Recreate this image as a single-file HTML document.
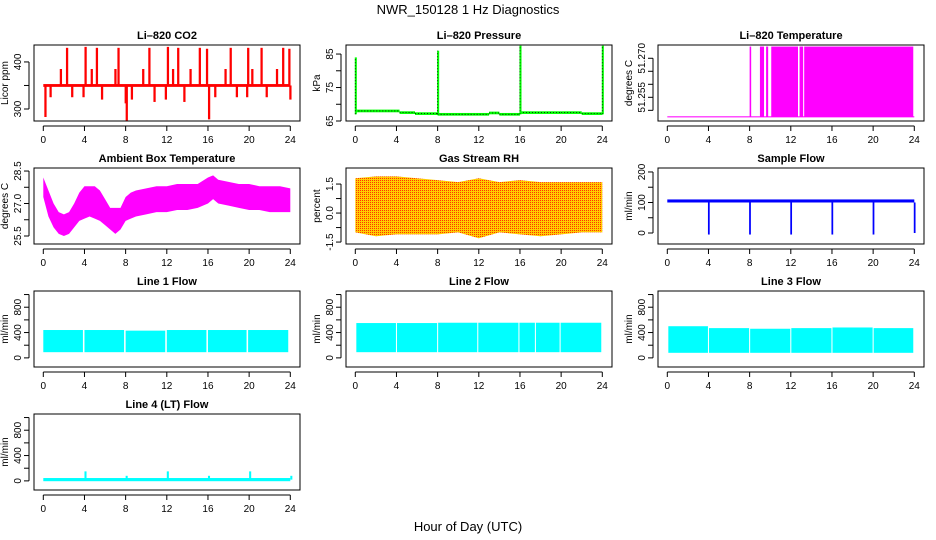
<!DOCTYPE html>
<html><head><meta charset="utf-8"><style>
html,body{margin:0;padding:0;background:#fff;}
svg{display:block;font-family:"Liberation Sans",sans-serif;}
</style></head><body>
<svg id="chart" width="936" height="540" viewBox="0 0 936 540" xmlns="http://www.w3.org/2000/svg">
<defs>
<pattern id="rhpat" width="2" height="2" patternUnits="userSpaceOnUse">
<rect width="2" height="2" fill="#ffcc00"/><rect width="1" height="1" fill="#ff3300"/>
</pattern>
</defs>
<text x="468" y="14" text-anchor="middle" font-size="13">NWR_150128  1 Hz Diagnostics</text>
<text x="468" y="531" text-anchor="middle" font-size="13">Hour of Day (UTC)</text>
</svg>
<script>
// ---- data ----
const xTicks = [0,4,8,12,16,20,24];
const co2SpikeT = [0.1,0.6,1.6,2.2,2.7,3.8,4.0,4.6,5.1,5.6,6.9,7.2,7.9,8.0,8.5,9.6,10.2,10.7,11.8,12.0,12.5,13.0,13.6,14.2,15.1,15.8,16.0,16.6,17.6,18.1,18.7,19.7,19.8,20.2,21.1,21.6,22.6,23.2,23.8,23.9];
const co2SpikeV = [283,325,385,430,325,325,432,385,430,320,385,430,312,275,320,385,430,315,320,432,385,430,315,385,430,428,278,325,385,430,325,325,430,385,430,325,385,430,428,320];
const pressSegStart = [0,4.3,5.8,8,13,14,16,20,22];
const pressSegEnd = [4.3,5.8,8,13,14,16,20,22,24];
const pressSegVal = [68,67.5,67.2,67,67.4,67,67.5,67.5,67.2];
const pressSpikeT = [0,8,16,24];
const pressSpikeV = [84,86,87.5,87.5];
const liTempBase = 51.2475;
const liTempBlockStart = [8.0,9.0,9.6,10.1,12.85,13.3];
const liTempBlockEnd = [8.15,9.4,9.8,12.7,13.2,23.9];
const liTempTop = 51.2745;
const ambT  = [0,0.5,1,1.5,2,2.5,3,3.5,4,4.5,5,5.5,6,6.5,7,7.5,8,8.5,9,10,11,12,13,14,15,16,16.5,17,18,19,20,21,22,23,24];
const ambHi = [28.2,27.6,27.0,26.6,26.5,26.6,27.0,27.5,27.8,27.8,27.8,27.6,27.2,26.8,26.8,26.8,27.3,27.5,27.6,27.7,27.8,27.8,27.9,27.9,27.9,28.2,28.3,28.1,28.0,27.9,27.9,27.8,27.8,27.8,27.7];
const ambLo = [27.3,26.4,25.9,25.6,25.5,25.6,25.9,26.2,26.3,26.4,26.3,26.2,26.0,25.8,25.6,25.8,26.2,26.3,26.4,26.5,26.6,26.6,26.7,26.7,26.8,27.0,27.2,27.0,26.9,26.8,26.7,26.7,26.6,26.6,26.6];
const rhT  = [0,2,4,6,8,10,12,14,16,18,20,22,24];
const rhHi = [1.8,1.9,1.9,1.8,1.7,1.6,1.8,1.6,1.7,1.6,1.6,1.6,1.6];
const rhLo = [-1.0,-1.2,-1.1,-1.1,-1.1,-1.0,-1.3,-1.0,-1.1,-1.2,-1.1,-1.0,-1.0];
const sfBaseLo = 100, sfBaseHi = 110;
const sfDipT = [4,8,12,16,20,24];
const sfDipV = [-5,-5,-5,-5,-5,0];
const l1Start = [0,4.0,8.0,12.0,16.0,19.9];
const l1End   = [3.85,7.85,11.85,15.85,19.75,23.8];
const l1Hi    = [440,440,430,440,440,440];
const l1Lo = 90;
const l2Start = [0.1,4.05,8.05,11.95,15.95,17.55,19.95];
const l2End   = [3.95,7.95,11.85,15.85,17.45,19.85,23.9];
const l2Hi    = [550,550,555,555,555,555,555];
const l2Lo = 90;
const l3Start = [0.1,4.05,8.05,12.05,16.05,20.05];
const l3End   = [3.95,7.95,11.95,15.95,19.95,23.9];
const l3Hi    = [500,470,460,470,480,470];
const l3Lo = 80;
const l4Base = 20;
const l4SpikeT = [4,8,12,16,20,24];
const l4SpikeV = [150,80,150,80,150,80];

// ---- drawing ----
const NS = 'http://www.w3.org/2000/svg';
const svg = document.getElementById('chart');
function mk(tag, attrs, parent){
  const e = document.createElementNS(NS, tag);
  for (const k in attrs) e.setAttribute(k, attrs[k]);
  (parent || svg).appendChild(e);
  return e;
}
const colLeft = [34,346,658];
const rowTop = [45,168,291,414];
const W = 266, H = 76;

function panel(col,row,ymin,ymax,yticks,ylabels,title,ylab,name){
  const L = colLeft[col], T = rowTop[row];
  const g = mk('g',{});
  
  
  const x = h => L + 9.3 + h * (247/24);
  const y = v => T + H - (v - ymin) / (ymax - ymin) * H;
  const plot = mk('g',{}, g);
  
  
  const box = mk('rect',{x:L,y:T,width:W,height:H,fill:'none',stroke:'#000','stroke-width':1}, g);
  
  
  const t = mk('text',{x:L+W/2,y:T-6,'text-anchor':'middle','font-size':11,'font-weight':'bold'}, g);
  t.textContent = title;
  
  
  const xa = mk('g',{}, g);
  
  
  mk('line',{x1:x(0),x2:x(24),y1:T+H+5,y2:T+H+5,stroke:'#000'}, xa);
  xTicks.forEach(v=>{
    mk('line',{x1:x(v),x2:x(v),y1:T+H+5,y2:T+H+10,stroke:'#000'}, xa);
    const tl = mk('text',{x:x(v),y:T+H+22,'text-anchor':'middle','font-size':10}, xa);
    tl.textContent = v;
    
    
  });
  const ya = mk('g',{}, g);
  
  
  mk('line',{x1:L-5,x2:L-5,y1:y(yticks[0]),y2:y(yticks[yticks.length-1]),stroke:'#000'}, ya);
  yticks.forEach(v=>{ mk('line',{x1:L-10,x2:L-5,y1:y(v),y2:y(v),stroke:'#000'}, ya); });
  ylabels.forEach(v=>{
    const yy = y(parseFloat(v));
    const tl = mk('text',{x:L-13,y:yy,'text-anchor':'middle','font-size':10,transform:`rotate(-90 ${L-13} ${yy})`}, ya);
    tl.textContent = v;
    
    
  });
  const yl = mk('text',{x:L-26,y:T+H/2,'text-anchor':'middle','font-size':10,transform:`rotate(-90 ${L-26} ${T+H/2})`}, g);
  yl.textContent = ylab;
  
  
  return {x,y,g:plot};
}
function rectBetween(p, x0, x1, v0, v1, fill, nm){
  const ya = p.y(v0), yb = p.y(v1);
  const r = mk('rect',{x:p.x(x0),y:Math.min(ya,yb),width:Math.max(1,p.x(x1)-p.x(x0)),height:Math.max(1,Math.abs(yb-ya)),fill:fill}, p.g);
  
  
  return r;
}
function band(p, ts, hi, lo, fill, nm){
  let d = 'M' + ts.map((t,i)=>p.x(t)+','+p.y(hi[i])).join('L');
  for (let i=ts.length-1;i>=0;i--) d += 'L' + p.x(ts[i]) + ',' + p.y(lo[i]);
  const path = mk('path',{d:d+'Z',fill:fill}, p.g);
  
  
}

// CO2
let p = panel(0,0,274.5,436,[300,350,400],['300','400'],'Li\u2013820 CO2','Licor ppm','co2');
rectBetween(p,0,24,347,353,'#ff0000','co2-baseline');
co2SpikeT.forEach((t,i)=>{ rectBetween(p,t,t+0.22,350,co2SpikeV[i],'#ff0000','co2-spike'); });

// Pressure
p = panel(1,0,65,87.7,[65,70,75,80,85],['65','75','85'],'Li\u2013820 Pressure','kPa','pressure');
pressSegStart.forEach((s,i)=>{
  rectBetween(p,s,pressSegEnd[i],pressSegVal[i]-0.4,pressSegVal[i]+0.4,'#00ff00','pressure-line');
  const l = mk('line',{x1:p.x(s),x2:p.x(pressSegEnd[i]),y1:p.y(pressSegVal[i]),y2:p.y(pressSegVal[i]),stroke:'#000','stroke-dasharray':'1,2','stroke-width':0.8}, p.g);
  
  
});
pressSpikeT.forEach((t,i)=>{
  rectBetween(p,t-0.05,t+0.15,67,pressSpikeV[i],'#00ff00','pressure-spike');
  const l = mk('line',{x1:p.x(t),x2:p.x(t),y1:p.y(67),y2:p.y(pressSpikeV[i]),stroke:'#000','stroke-dasharray':'1,2','stroke-width':0.8}, p.g);
  
  
});

// Li-820 Temperature
p = panel(2,0,51.2459,51.2751,[51.250,51.255,51.260,51.265,51.270],['51.255','51.270'],'Li\u2013820 Temperature','degrees C','li-temp');
rectBetween(p,0,24,liTempBase-0.0002,liTempBase+0.0002,'#ff00ff','li-temp-baseline');
liTempBlockStart.forEach((s,i)=>{ rectBetween(p,s,liTempBlockEnd[i],liTempBase,liTempTop,'#ff00ff','li-temp-block'); });

// Ambient
p = panel(0,1,25.13,28.64,[25.5,26.25,27,27.75,28.5],['25.5','27.0','28.5'],'Ambient Box Temperature','degrees C','ambient');
band(p,ambT,ambHi,ambLo,'#ff00ff','ambient-band');

// RH
p = panel(1,1,-1.6,2.33,[-1.5,-0.75,0,0.75,1.5],['-1.5','0.0','1.5'],'Gas Stream RH','percent','rh');
band(p,rhT,rhHi,rhLo,'url(#rhpat)','rh-band');

// Sample flow
p = panel(2,1,-36,213,[0,50,100,150,200],['0','100','200'],'Sample Flow','ml/min','sample-flow');
rectBetween(p,0,24,sfBaseLo,sfBaseHi,'#0000ff','sample-flow-baseline');
sfDipT.forEach((t,i)=>{ rectBetween(p,t-0.05,t+0.12,sfDipV[i],sfBaseLo,'#0000ff','sample-flow-dip'); });

// Lines
const flowTicks = [0,200,400,600,800,1000], flowLabels = ['0','400','800'];
p = panel(0,2,-144,1056,flowTicks,flowLabels,'Line 1 Flow','ml/min','line1');
l1Start.forEach((s,i)=>{ rectBetween(p,s,l1End[i],l1Lo,l1Hi[i],'#00ffff','line1-block'); });
p = panel(1,2,-144,1056,flowTicks,flowLabels,'Line 2 Flow','ml/min','line2');
l2Start.forEach((s,i)=>{ rectBetween(p,s,l2End[i],l2Lo,l2Hi[i],'#00ffff','line2-block'); });
p = panel(2,2,-144,1056,flowTicks,flowLabels,'Line 3 Flow','ml/min','line3');
l3Start.forEach((s,i)=>{ rectBetween(p,s,l3End[i],l3Lo,l3Hi[i],'#00ffff','line3-block'); });
p = panel(0,3,-144,1056,flowTicks,flowLabels,'Line 4 (LT) Flow','ml/min','line4');
rectBetween(p,0,24,l4Base-25,l4Base+25,'#00ffff','line4-baseline');
l4SpikeT.forEach((t,i)=>{ rectBetween(p,t,t+0.2,l4Base,l4SpikeV[i],'#00ffff','line4-spike'); });
</script>
</body></html>
